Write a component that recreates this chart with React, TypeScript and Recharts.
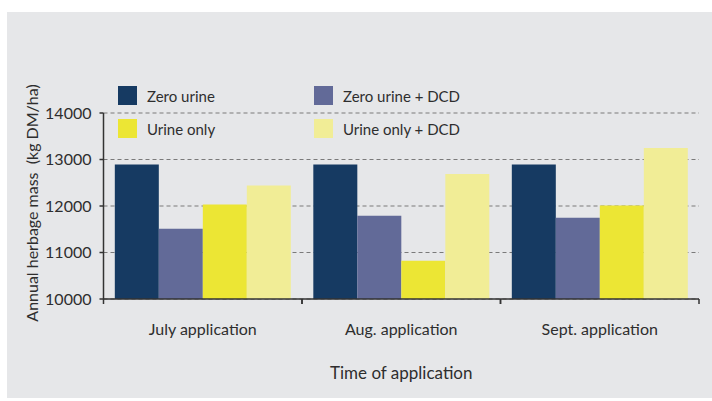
import React from "react"
import { BarChart, Bar, XAxis, YAxis, CartesianGrid, Legend } from "recharts"

if (typeof document !== "undefined") document.body.style.margin = "0"

const categories = ["July application", "Aug. application", "Sept. application"]
const zeroUrine = [12890, 12890, 12890]
const zeroUrineDcd = [11510, 11790, 11750]
const urineOnly = [12030, 10820, 12010]
const urineOnlyDcd = [12440, 12690, 13250]
const yTicks = [10000, 11000, 12000, 13000, 14000]

const seriesNames = ["Zero urine", "Zero urine + DCD", "Urine only", "Urine only + DCD"]
const colors = ["#163a62", "#626a98", "#ece634", "#f1ed96"]

const data = categories.map((name, i) => ({
  name,
  zeroUrine: zeroUrine[i],
  zeroUrineDcd: zeroUrineDcd[i],
  urineOnly: urineOnly[i],
  urineOnlyDcd: urineOnlyDcd[i],
}))

const FONT = "Lato, sans-serif"
const TEXT = "#2e2e2e"

// category label plus boundary ticks (ticks sit between categories, not at centres)
function CategoryTick(props: any) {
  const { x, y, payload } = props
  const half = payload && payload.offset ? payload.offset : 99
  return (
    <g>
      <line x1={x - half} y1={y} x2={x - half} y2={y + 5} stroke="#333" strokeWidth={1.5} />
      <line x1={x + half} y1={y} x2={x + half} y2={y + 5} stroke="#333" strokeWidth={1.5} />
      <text x={x} y={y + 30} dy="0.35em" textAnchor="middle" fill={TEXT} fontSize={16} fontFamily={FONT}>
        {payload.value}
      </text>
    </g>
  )
}

function LegendGrid({ payload }: any) {
  // keep the original series order (Recharts sorts legend items by name)
  const items = [...(payload || [])].sort(
    (a: any, b: any) => seriesNames.indexOf(a.value) - seriesNames.indexOf(b.value),
  )
  return (
    <div style={{ display: "grid", gridTemplateColumns: "196px 200px", rowGap: 14 }}>
      {items.map((item: any) => (
        <div key={item.value} style={{ display: "flex", alignItems: "center", height: 19 }}>
          <span style={{ display: "inline-block", width: 19, height: 19, background: item.color, marginRight: 10 }} />
          <span style={{ fontFamily: FONT, fontSize: 15, color: TEXT, whiteSpace: "nowrap" }}>{item.value}</span>
        </div>
      ))}
    </div>
  )
}

export default function App() {
  return (
    <div style={{ position: "relative", width: 712, height: 401, background: "#fff" }}>
      <div style={{ position: "absolute", left: 7, top: 12, width: 705, height: 386, background: "#e6e7e9" }} />
      <div style={{ position: "absolute", left: 0, top: 0 }}>
        <BarChart
          width={712}
          height={401}
          data={data}
          margin={{ top: 113, right: 13, bottom: 12, left: 8.5 }}
          barGap={0}
          barCategoryGap="5.7%"
        >
          <CartesianGrid vertical={false} stroke="#7a7a7a" strokeWidth={1.2} strokeDasharray="4 3" />
          <XAxis
            dataKey="name"
            height={90}
            tickSize={0}
            tickMargin={0}
            tickLine={false}
            tick={<CategoryTick />}
            axisLine={{ stroke: "#333", strokeWidth: 1.5 }}
            interval={0}
            label={{
              content: ({ viewBox }: any) => (
                <text
                  x={viewBox.x + viewBox.width / 2}
                  y={viewBox.y + 74}
                  dy="0.35em"
                  textAnchor="middle"
                  fill={TEXT}
                  fontSize={17}
                  fontFamily={FONT}
                >
                  Time of application
                </text>
              ),
            }}
          />
          <YAxis
            width={95}
            domain={[10000, 14000]}
            ticks={yTicks}
            tickSize={4}
            tickMargin={8}
            tick={{ fill: TEXT, fontSize: 16, fontFamily: FONT }}
            tickLine={{ stroke: "#333", strokeWidth: 1.5 }}
            axisLine={{ stroke: "#333", strokeWidth: 1.5 }}
            label={{
              content: ({ viewBox }: any) => {
                const cx = viewBox.x + 24
                const cy = viewBox.y + viewBox.height / 2 - 3
                return (
                  <text
                    x={cx}
                    y={cy}
                    dy="0.35em"
                    textAnchor="middle"
                    transform={`rotate(-90 ${cx} ${cy})`}
                    fill={TEXT}
                    fontSize={16}
                    fontFamily={FONT}
                    style={{ whiteSpace: "pre" }}
                  >
                    Annual herbage mass  (kg DM/ha)
                  </text>
                )
              },
            }}
          />
          <Legend
            layout="horizontal"
            align="center"
            verticalAlign="middle"
            content={<LegendGrid />}
            wrapperStyle={{ left: 118, top: 86, width: "auto", height: "auto" }}
          />
          <Bar dataKey="zeroUrine" name={seriesNames[0]} fill={colors[0]} isAnimationActive={false} />
          <Bar dataKey="zeroUrineDcd" name={seriesNames[1]} fill={colors[1]} isAnimationActive={false} />
          <Bar dataKey="urineOnly" name={seriesNames[2]} fill={colors[2]} isAnimationActive={false} />
          <Bar dataKey="urineOnlyDcd" name={seriesNames[3]} fill={colors[3]} isAnimationActive={false} />
        </BarChart>
      </div>
    </div>
  )
}
